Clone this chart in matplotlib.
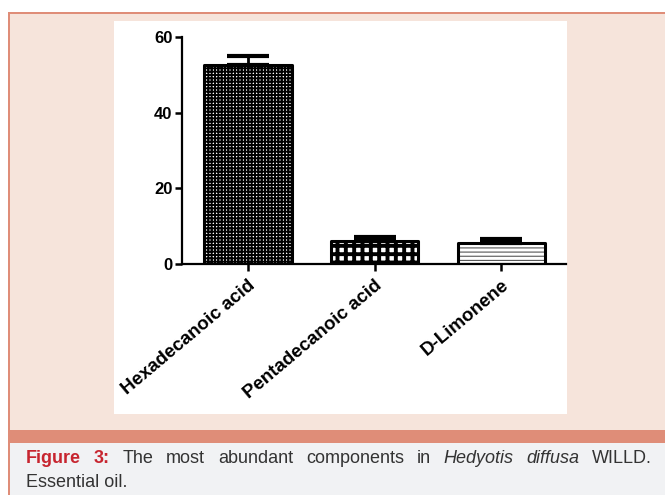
import matplotlib
matplotlib.use("Agg")
import matplotlib.pyplot as plt
from matplotlib.patches import Rectangle
import numpy as np

categories = ["Hexadecanoic acid", "Pentadecanoic acid", "D-Limonene"]
values = [52.5, 6.0, 5.6]
errors = [2.6, 1.1, 1.0]
yticks = [0, 20, 40, 60]

caption_line1 = [("Figure", "bold"), ("3:", "bold"), ("The", "n"), ("most", "n"),
                 ("abundant", "n"), ("components", "n"), ("in", "n"),
                 ("Hedyotis", "it"), ("diffusa", "it"), ("WILLD.", "n")]
caption_line2 = "Essential oil."

W, H = 665, 495
PEACH = "#f6e4db"
SALMON = "#df8d78"
CAPBG = "#f1f2f4"
RED = "#c7252f"

plt.rcParams['font.family'] = ['Liberation Sans', 'DejaVu Sans']

fig = plt.figure(figsize=(W / 100, H / 100), dpi=100)
fig.patch.set_facecolor("white")

def px_rect(x0, y0, x1, y1, color, z=0):
    fig.patches.append(Rectangle((x0 / W, 1 - y1 / H), (x1 - x0) / W, (y1 - y0) / H,
                                 transform=fig.transFigure, facecolor=color,
                                 edgecolor="none", zorder=z))

px_rect(9, 14, W, 430, PEACH)
px_rect(9, 430, W, 443, SALMON)
px_rect(9, 443, W, H, CAPBG)
px_rect(7.5, 13, 9.5, H, SALMON, 1)
px_rect(8, 12.5, W, 14, SALMON, 1)
px_rect(114, 21, 567, 414, "white", 1)

ax = fig.add_axes([182 / W, (H - 264) / H, (566 - 182) / W, (264 - 37) / H])
ax.set_facecolor("none")
ax.set_zorder(2)

x = np.arange(len(categories))
hatches = ['+++++', '++', '----']
hlw = [1.4, 2.8, 0.8]
hcol = ['black', 'black', '#555555']
for i in range(len(categories)):
    with plt.rc_context({'hatch.linewidth': hlw[i], 'hatch.color': hcol[i]}):
        b = ax.bar(x[i], values[i], width=0.69, facecolor="white", edgecolor=hcol[i],
                   hatch=hatches[i], linewidth=0, zorder=2)
        for p in b:
            try:
                p.set_hatch_linewidth(hlw[i])
            except Exception:
                pass
ax.bar(x, values, width=0.69, fill=False, edgecolor="black", linewidth=2.2, zorder=3,
       joinstyle="round")
ax.errorbar(x, values, yerr=[np.zeros(len(values)), errors], fmt="none", ecolor="black",
            elinewidth=2, capsize=15, capthick=3, zorder=4)

ax.set_xlim(-0.52, 2.51)
ax.set_ylim(0, 60)
ax.set_yticks(yticks)
ax.set_yticklabels([str(t) for t in yticks], fontsize=12, fontweight="bold")
ax.set_xticks(x)
ax.set_xticklabels(categories, rotation=40, ha="right", rotation_mode="anchor",
                   fontsize=13.5, fontweight="bold")
for s in ["top", "right"]:
    ax.spines[s].set_visible(False)
for s in ["left", "bottom"]:
    ax.spines[s].set_linewidth(1.6)
ax.tick_params(axis="both", direction="out", length=5, width=1.8, pad=2)
ax.tick_params(axis="x", pad=4)

# caption
renderer = fig.canvas.get_renderer()
fs = 13
def mk(word, style, xx, yy):
    kw = dict(fontsize=fs, color="#333333", va="baseline", ha="left")
    if style == "bold":
        kw.update(fontweight="bold", color=RED)
    elif style == "it":
        kw.update(fontstyle="italic")
    return fig.text(xx, yy, word, **kw)

y1 = (H - 463) / H
texts = [mk(w, s, 0, y1) for w, s in caption_line1]
widths = [t.get_window_extent(renderer).width for t in texts]
x0, x1 = 26, 652
gap = (x1 - x0 - sum(widths)) / (len(widths) - 1)
cur = x0
for t, w in zip(texts, widths):
    t.set_x(cur / W)
    cur += w + gap
mk(caption_line2, "n", 26 / W, (H - 487) / H)

fig.savefig("out.png", dpi=100, facecolor=fig.get_facecolor())
